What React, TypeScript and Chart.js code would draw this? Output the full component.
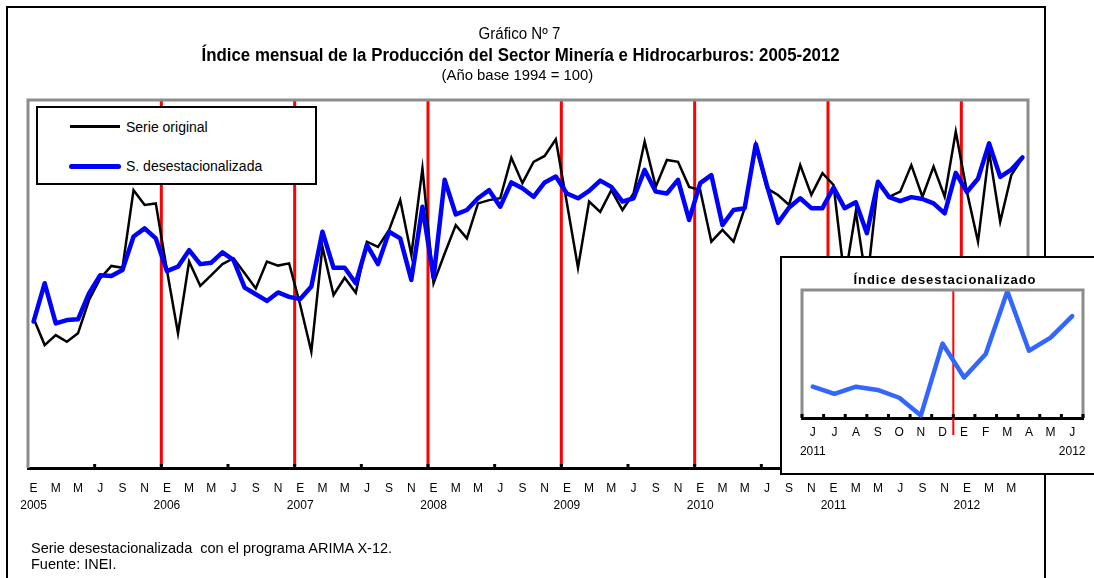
import React, { useEffect, useLayoutEffect, useRef } from 'react';
import { Chart, registerables } from 'chart.js';

Chart.register(...registerables);

const SANS = '"Liberation Sans", Arial, sans-serif';

// ---- data ----
const monthLetters = ['E', 'F', 'M', 'A', 'M', 'J', 'J', 'A', 'S', 'O', 'N', 'D'];
const firstYear = 2005;

const serieOriginal = [
  140.7, 133.4, 136.1, 134.3, 136.6, 145.7, 151.5, 154.9, 154.4, 175.5, 171.5, 171.9,
  153.8, 136.6, 156.1, 149.5, 152.4, 155.4, 157.0, 152.9, 148.8, 156.1, 155.0, 155.6,
  144.3, 131.6, 160.1, 147.0, 151.7, 147.6, 161.5, 160.1, 164.7, 172.8, 157.9, 181.4,
  150.2, 158.3, 166.0, 162.4, 171.9, 172.8, 173.3, 184.3, 177.4, 183.2, 184.8, 189.3,
  172.0, 154.4, 172.4, 169.6, 175.5, 170.1, 174.6, 188.7, 176.4, 183.7, 183.2, 176.4,
  175.5, 161.5, 164.7, 161.5, 170.6, 187.8, 176.0, 174.2, 171.5, 182.3, 174.2, 180.1,
  176.9, 151.1, 169.6, 149.7, 177.4, 173.7, 175.1, 182.3, 173.7, 181.9, 173.7, 191.4,
  175.1, 161.5, 185.9, 166.9, 179.6, 184.2,
];

const serieDesestacionalizada = [
  139.8, 150.2, 139.3, 140.2, 140.4, 147.5, 152.4, 152.2, 153.8, 162.9, 165.1, 162.4,
  153.5, 154.7, 159.2, 155.4, 155.8, 158.6, 156.5, 149.0, 147.2, 145.4, 147.7, 146.5,
  145.9, 149.3, 164.2, 154.4, 154.4, 150.2, 160.6, 155.4, 164.2, 162.4, 151.1, 171.0,
  151.7, 178.3, 168.9, 170.1, 173.3, 175.5, 171.0, 177.6, 176.0, 173.7, 177.6, 179.2,
  174.6, 173.3, 175.3, 178.1, 176.4, 172.4, 173.3, 181.0, 175.1, 174.6, 178.3, 167.4,
  177.4, 179.6, 166.0, 170.1, 170.6, 188.0, 176.8, 166.6, 170.8, 173.3, 170.6, 170.6,
  176.2, 170.6, 172.2, 163.8, 177.8, 173.6, 172.5, 173.6, 173.1, 171.9, 169.2, 180.2,
  175.0, 178.6, 188.2, 179.1, 181.1, 184.4,
];

const insetMonthLetters = ['J', 'J', 'A', 'S', 'O', 'N', 'D', 'E', 'F', 'M', 'A', 'M', 'J'];
const insetFirstIndex = 77; // junio 2011
const insetYearLabels = ['2011', '2012'];

const mainYMin = 100;
const mainYMax = 200;
const insetYMin = 168.8;
const insetYMax = 188.4;

const categories = serieOriginal.map(
  (_, i) => `${monthLetters[i % 12]} ${firstYear + Math.floor(i / 12)}`
);
const insetValues = serieDesestacionalizada.slice(insetFirstIndex);
const insetCategories = insetMonthLetters.map((m, i) => `${m}-${i}`);

const boundary = (x: any, i: number) => (x.getPixelForValue(i - 1) + x.getPixelForValue(i)) / 2;

const mainDecor = {
  id: 'mainDecor',
  beforeDatasetsDraw(chart: any) {
    const { ctx, chartArea: a } = chart;
    const x = chart.scales.x;
    ctx.save();
    ctx.strokeStyle = '#ff0000';
    ctx.lineWidth = 3;
    for (let i = 12; i < serieOriginal.length; i += 12) {
      const px = boundary(x, i);
      ctx.beginPath();
      ctx.moveTo(px, a.top);
      ctx.lineTo(px, a.bottom - 1);
      ctx.stroke();
    }
    ctx.restore();
  },
  afterDraw(chart: any) {
    const { ctx, chartArea: a } = chart;
    const x = chart.scales.x;
    ctx.save();
    ctx.strokeStyle = '#8c8c8c';
    ctx.lineWidth = 3;
    ctx.beginPath();
    ctx.moveTo(a.left, a.bottom);
    ctx.lineTo(a.left, a.top);
    ctx.lineTo(a.right, a.top);
    ctx.lineTo(a.right, a.bottom);
    ctx.stroke();
    ctx.fillStyle = '#000';
    for (let i = 6; i < serieOriginal.length; i += 6) {
      const px = boundary(x, i);
      ctx.fillRect(px - 1.5, a.bottom - 4, 3, 4);
    }
    ctx.restore();
  },
};

const insetDecor = {
  id: 'insetDecor',
  beforeDatasetsDraw(chart: any) {
    const { ctx, chartArea: a } = chart;
    const x = chart.scales.x;
    ctx.save();
    ctx.strokeStyle = '#ff0000';
    ctx.lineWidth = 2;
    const px = boundary(x, 7);
    ctx.beginPath();
    ctx.moveTo(px, a.top);
    ctx.lineTo(px, a.bottom + 17);
    ctx.stroke();
    ctx.restore();
  },
  afterDraw(chart: any) {
    const { ctx, chartArea: a } = chart;
    const x = chart.scales.x;
    ctx.save();
    ctx.strokeStyle = '#8c8c8c';
    ctx.lineWidth = 3;
    ctx.beginPath();
    ctx.moveTo(a.left, a.bottom);
    ctx.lineTo(a.left, a.top);
    ctx.lineTo(a.right, a.top);
    ctx.lineTo(a.right, a.bottom);
    ctx.stroke();
    ctx.fillStyle = '#000';
    for (let i = 0; i <= insetValues.length; i++) {
      const px = i === 0 ? a.left : i === insetValues.length ? a.right : boundary(x, i);
      ctx.fillRect(px - 1.5, a.bottom - 4, 3, 4);
    }
    ctx.restore();
  },
};

// Text squeezed horizontally to imitate a narrow typeface
function FitText(props: { text: string; cx: number; cy: number; width: number; style: React.CSSProperties }) {
  const ref = useRef<HTMLSpanElement>(null);
  useLayoutEffect(() => {
    const el = ref.current;
    if (!el) return;
    el.style.transform = 'none';
    const w = el.offsetWidth;
    const h = el.offsetHeight;
    el.style.left = `${props.cx - w / 2}px`;
    el.style.top = `${props.cy - h / 2}px`;
    el.style.transform = `scaleX(${props.width / w})`;
  }, [props.text, props.cx, props.cy, props.width]);
  return (
    <span
      ref={ref}
      style={{ position: 'absolute', whiteSpace: 'nowrap', transformOrigin: 'center center', ...props.style }}
    >
      {props.text}
    </span>
  );
}

export default function App() {
  const mainRef = useRef<HTMLCanvasElement>(null);
  const insetRef = useRef<HTMLCanvasElement>(null);

  useEffect(() => {
    const main = new Chart(mainRef.current as HTMLCanvasElement, {
      type: 'line',
      data: {
        labels: categories,
        datasets: [
          {
            label: 'S. desestacionalizada',
            data: serieDesestacionalizada,
            borderColor: '#0000ff',
            borderWidth: 4.5,
            pointRadius: 0,
            tension: 0,
            borderJoinStyle: 'round',
            borderCapStyle: 'round',
          },
          {
            label: 'Serie original',
            data: serieOriginal,
            borderColor: '#000000',
            borderWidth: 2.5,
            pointRadius: 0,
            tension: 0,
            borderJoinStyle: 'miter',
          },
        ],
      },
      options: {
        responsive: false,
        animation: false,
        devicePixelRatio: 1,
        layout: { padding: { left: 28, right: 66, top: 100, bottom: 55 } },
        plugins: { legend: { display: false }, tooltip: { enabled: false }, title: { display: false } },
        scales: {
          x: {
            type: 'category',
            offset: true,
            grid: { display: false, drawTicks: false },
            border: { display: true, color: '#000', width: 3 },
            ticks: {
              autoSkip: false,
              maxRotation: 0,
              minRotation: 0,
              padding: 12,
              color: '#000',
              font: { family: SANS, size: 12, lineHeight: 1.4 },
              callback: (_v: any, i: number) => {
                if (i % 2 !== 0) return '';
                const m = monthLetters[i % 12];
                if (i % 12 === 0) return [m, String(firstYear + i / 12)];
                return m;
              },
            },
            afterFit: (s: any) => {
              s.height = 55;
            },
          },
          y: { display: false, min: mainYMin, max: mainYMax },
        },
      },
      plugins: [mainDecor],
    } as any);

    const inset = new Chart(insetRef.current as HTMLCanvasElement, {
      type: 'line',
      data: {
        labels: insetCategories,
        datasets: [
          {
            label: 'Índice desestacionalizado',
            data: insetValues,
            borderColor: '#3366ff',
            borderWidth: 4.5,
            pointRadius: 0,
            tension: 0,
            borderJoinStyle: 'round',
            borderCapStyle: 'round',
          },
        ],
      },
      options: {
        responsive: false,
        animation: false,
        devicePixelRatio: 1,
        layout: { padding: { left: 21, right: 11, top: 33, bottom: 7 } },
        plugins: { legend: { display: false }, tooltip: { enabled: false }, title: { display: false } },
        scales: {
          x: {
            type: 'category',
            offset: true,
            grid: { display: false, drawTicks: false },
            border: { display: true, color: '#000', width: 3 },
            ticks: {
              autoSkip: false,
              maxRotation: 0,
              minRotation: 0,
              padding: 5,
              color: '#000',
              font: { family: SANS, size: 12, lineHeight: 1.6 },
              callback: (_v: any, i: number) => {
                const m = insetMonthLetters[i];
                if (i === 0) return [m, insetYearLabels[0]];
                if (i === insetMonthLetters.length - 1) return [m, insetYearLabels[1]];
                return m;
              },
            },
            afterFit: (s: any) => {
              s.height = 48;
            },
          },
          y: { display: false, min: insetYMin, max: insetYMax },
        },
      },
      plugins: [insetDecor],
    } as any);

    return () => {
      main.destroy();
      inset.destroy();
    };
  }, []);

  const abs = (o: React.CSSProperties): React.CSSProperties => ({ position: 'absolute', margin: 0, ...o });

  return (
    <div style={abs({ left: 0, top: 0, width: 1094, height: 578, overflow: 'hidden', background: '#fff', color: '#000' })}>
      <div style={abs({ left: 6, top: 6, width: 1036, height: 620, border: '2px solid #000' })} />
      <canvas ref={mainRef} width={1094} height={578} style={abs({ left: 0, top: 0, width: 1094, height: 578 })} />

      <FitText text="Gráfico Nº 7" cx={519} cy={34} width={82} style={{ fontFamily: SANS, fontSize: 16, lineHeight: '18px' }} />
      <FitText
        text="Índice mensual de la Producción del Sector Minería e Hidrocarburos: 2005-2012"
        cx={520}
        cy={55}
        width={638}
        style={{ fontFamily: SANS, fontWeight: 'bold', fontSize: 18, lineHeight: '22px' }}
      />
      <FitText text="(Año base 1994 = 100)" cx={517} cy={75} width={152} style={{ fontFamily: SANS, fontSize: 14, lineHeight: '18px' }} />

      <div style={abs({ left: 36, top: 106, width: 277, height: 75, border: '2px solid #000', background: '#fff' })}>
        <div style={abs({ left: 32, top: 16.5, width: 50, height: 3, background: '#000' })} />
        <div style={abs({ left: 88, top: 10, fontFamily: SANS, fontSize: 14, lineHeight: '18px', whiteSpace: 'nowrap' })}>
          Serie original
        </div>
        <div style={abs({ left: 31, top: 55.5, width: 52, height: 5, background: '#0000ff', borderRadius: 3 })} />
        <div style={abs({ left: 88, top: 49, fontFamily: SANS, fontSize: 14, lineHeight: '18px', whiteSpace: 'nowrap' })}>
          S. desestacionalizada
        </div>
      </div>

      <div style={abs({ left: 780, top: 256, width: 340, height: 215, border: '2px solid #000', background: '#fff' })} />
      <canvas ref={insetRef} width={313} height={216} style={abs({ left: 781, top: 257, width: 313, height: 216 })} />
      <div style={abs({ left: 835, top: 271, width: 220, textAlign: 'center', fontFamily: SANS, fontWeight: 'bold', fontSize: 13, letterSpacing: '0.9px', lineHeight: '18px', whiteSpace: 'nowrap' })}>
        Índice desestacionalizado
      </div>

      <div style={abs({ left: 31, top: 540, fontFamily: SANS, fontSize: 14.5, lineHeight: '17px', whiteSpace: 'pre' })}>
        Serie desestacionalizada  con el programa ARIMA X-12.
      </div>
      <div style={abs({ left: 31, top: 556, fontFamily: SANS, fontSize: 14.5, lineHeight: '17px', whiteSpace: 'pre' })}>
        Fuente: INEI.
      </div>
    </div>
  );
}
